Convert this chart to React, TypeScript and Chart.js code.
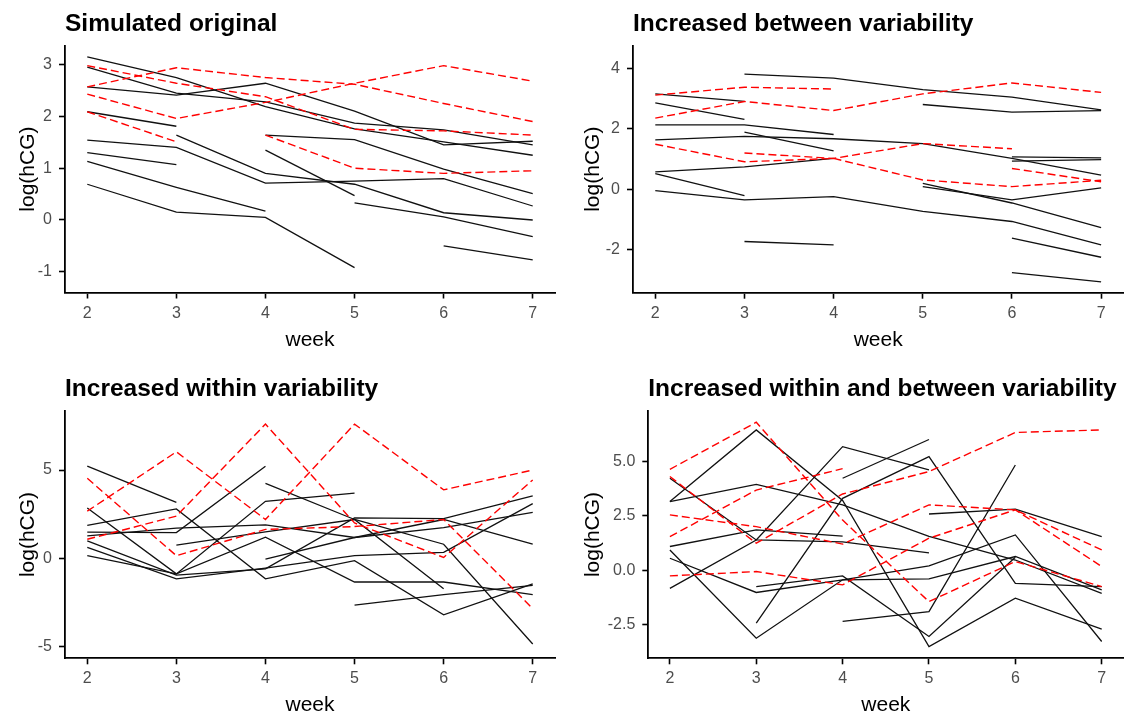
import React, { useEffect, useRef } from "react";
import { Chart, registerables } from "chart.js";

Chart.register(...registerables);

type Series = (number | null)[];

const WEEKS = [2, 3, 4, 5, 6, 7];

// ---------- Panel 1: Simulated original ----------
const P1_TITLE = "Simulated original";
const P1_Y_TICKS = [-1, 0, 1, 2, 3];
const P1_SOLID: Series[] = [
  [3.15, 2.75, 2.19, 1.76, 1.51, 1.25],
  [2.95, 2.45, 2.28, 1.87, 1.74, 1.45],
  [2.57, 2.41, 2.64, 2.1, 1.45, 1.52],
  [2.09, 1.81, null, null, null, null],
  [null, 1.64, 0.9, 0.69, 0.14, 0.0],
  [1.54, 1.4, 0.71, 0.75, 0.8, 0.27],
  [1.3, 1.07, null, null, null, null],
  [1.13, 0.63, 0.17, null, null, null],
  [0.69, 0.15, 0.05, -0.92, null, null],
  [null, null, 1.64, 1.55, 0.98, 0.51],
  [null, null, 1.35, 0.47, null, null],
  [null, null, null, 0.33, 0.06, -0.32],
  [null, null, null, null, -0.5, -0.77],
];
const P1_DASHED: Series[] = [
  [2.98, 2.64, 2.38, 1.75, 1.72, 1.64],
  [2.57, 2.94, 2.75, 2.62, 2.25, 1.9],
  [2.43, 1.96, 2.27, 2.64, 2.98, 2.68],
  [2.09, 1.51, null, null, null, null],
  [null, null, 1.64, 1.0, 0.9, 0.95],
];

// ---------- Panel 2: Increased between variability ----------
const P2_TITLE = "Increased between variability";
const P2_Y_TICKS = [-2, 0, 2, 4];
const P2_SOLID: Series[] = [
  [null, 3.8, 3.67, 3.29, 3.04, 2.62],
  [null, null, null, 2.8, 2.55, 2.6],
  [3.15, 2.9, null, null, null, null],
  [2.85, 2.31, null, null, null, null],
  [2.13, 2.13, 1.81, null, null, null],
  [null, 1.89, 1.27, null, null, null],
  [1.63, 1.75, 1.67, 1.51, 1.02, 0.47],
  [0.58, 0.74, 1.02, null, null, null],
  [0.52, -0.21, null, null, null, null],
  [-0.04, -0.35, -0.24, -0.73, -1.06, -1.83],
  [null, -1.72, -1.83, null, null, null],
  [null, null, null, 0.2, -0.45, -1.26],
  [null, null, null, 0.09, -0.35, 0.05],
  [null, null, null, null, -1.61, -2.24],
  [null, null, null, null, -2.75, -3.05],
  [null, null, null, null, 1.07, 1.04],
  [null, null, null, null, 0.93, 0.98],
];
const P2_DASHED: Series[] = [
  [3.11, 3.37, 3.31, null, null, null],
  [2.35, 2.9, 2.6, 3.15, 3.51, 3.2],
  [1.49, 0.91, 1.02, 0.31, 0.09, 0.3],
  [null, 1.2, 1.02, 1.51, 1.34, null],
  [null, null, null, null, 0.69, 0.25],
];

// ---------- Panel 3: Increased within variability ----------
const P3_TITLE = "Increased within variability";
const P3_Y_TICKS = [-5, 0, 5];
const P3_SOLID: Series[] = [
  [5.22, 3.17, null, null, null, null],
  [2.85, -0.88, 3.23, 3.69, null, null],
  [1.87, 2.8, -1.16, -0.13, -3.2, -1.44],
  [1.49, 1.46, 5.22, null, null, null],
  [1.27, 1.71, 1.9, 1.18, 2.2, 0.8],
  [0.99, -0.95, -0.6, 2.29, 2.25, 3.54],
  [0.62, -1.16, -0.55, 0.15, 0.34, 3.1],
  [0.15, -0.88, 1.2, -1.34, -1.34, -2.05],
  [null, 0.75, 1.5, 2.2, -1.72, null],
  [null, null, 4.25, 2.2, 0.8, -4.85],
  [null, null, -0.04, 1.18, 1.74, 2.6],
  [null, null, null, -2.65, -2.05, -1.53],
];
const P3_DASHED: Series[] = [
  [4.53, 0.15, 1.64, 1.8, 2.2, -2.85],
  [2.67, 6.03, 2.2, 7.6, 3.88, 5.0],
  [1.08, 2.39, 7.6, 2.0, 0.05, 4.44],
];

// ---------- Panel 4: Increased within and between variability ----------
const P4_TITLE = "Increased within and between variability";
const P4_Y_TICKS = [-2.5, 0, 2.5, 5];
const P4_SOLID: Series[] = [
  [4.22, 1.39, 1.3, 0.8, null, null],
  [3.15, 3.94, 3.0, 1.55, 0.47, -1.06],
  [3.15, 6.44, 3.2, -3.5, -1.28, -2.7],
  [1.09, 1.85, 1.57, null, null, null],
  [0.55, -1.02, -0.44, 0.2, 1.62, -3.27],
  [0.93, -3.12, -0.44, -0.4, 0.63, -0.9],
  [-0.83, 1.39, 5.67, 4.6, null, null],
  [null, -2.43, 3.3, 5.21, -0.6, -0.75],
  [null, -0.75, -0.26, -3.04, 0.6, null],
  [null, null, 4.22, 6.0, null, null],
  [null, null, -2.35, -1.9, 4.83, null],
  [null, null, null, 2.58, 2.8, 1.54],
];
const P4_DASHED: Series[] = [
  [4.63, 6.79, 2.3, -1.44, 0.4, -0.75],
  [4.3, 1.24, 3.5, 4.53, 6.32, 6.44],
  [2.54, 2.0, 1.2, 3.0, 2.77, 0.93],
  [1.54, 3.68, 4.66, null, null, null],
  [-0.26, -0.06, -0.67, 1.47, 2.77, 0.17],
];

// ---------- layout (positions / sizes only) ----------
const FONT = '"Liberation Sans", Arial, Helvetica, sans-serif';

type PanelSpec = {
  title: string;
  solid: Series[];
  dashed: Series[];
  yTicks: number[];
  decimals: number;
  yMin: number;
  yMax: number;
  left: number;
  top: number;
  yAxisWidth: number;
  xAxisHeight: number;
  padTop: number;
  padRight: number;
  xTitlePad: number;
};

const PANELS: PanelSpec[] = [
  {
    title: P1_TITLE, solid: P1_SOLID, dashed: P1_DASHED, yTicks: P1_Y_TICKS, decimals: 0,
    yMin: -1.4, yMax: 3.365, left: 0, top: 0, yAxisWidth: 65, xAxisHeight: 65.5,
    padTop: 45.7, padRight: 10, xTitlePad: 7,
  },
  {
    title: P2_TITLE, solid: P2_SOLID, dashed: P2_DASHED, yTicks: P2_Y_TICKS, decimals: 0,
    yMin: -3.41, yMax: 4.74, left: 565, top: 0, yAxisWidth: 68, xAxisHeight: 65.3,
    padTop: 45.7, padRight: 6.6, xTitlePad: 7,
  },
  {
    title: P3_TITLE, solid: P3_SOLID, dashed: P3_DASHED, yTicks: P3_Y_TICKS, decimals: 0,
    yMin: -5.66, yMax: 8.36, left: 0, top: 358, yAxisWidth: 65, xAxisHeight: 57.7,
    padTop: 52.7, padRight: 10, xTitlePad: 0,
  },
  {
    title: P4_TITLE, solid: P4_SOLID, dashed: P4_DASHED, yTicks: P4_Y_TICKS, decimals: 1,
    yMin: -4.04, yMax: 7.32, left: 565, top: 358, yAxisWidth: 83.3, xAxisHeight: 57.7,
    padTop: 52.7, padRight: 6.7, xTitlePad: 0,
  },
];

const PANEL_W = 565;
const PANEL_H = 358;

function toPoints(s: Series) {
  return WEEKS.map((w, i) => ({ x: w, y: s[i] }));
}

function Panel({ spec }: { spec: PanelSpec }) {
  const ref = useRef<HTMLCanvasElement | null>(null);

  useEffect(() => {
    if (!ref.current) return;
    const solidSets = spec.solid.map((s) => ({
      data: toPoints(s),
      borderColor: "#111111",
      borderWidth: 1.3,
      pointRadius: 0,
      fill: false,
      spanGaps: false,
      tension: 0,
    }));
    const dashedSets = spec.dashed.map((s) => ({
      data: toPoints(s),
      borderColor: "#FF0000",
      borderWidth: 1.4,
      borderDash: [8, 4],
      pointRadius: 0,
      fill: false,
      spanGaps: false,
      tension: 0,
    }));

    const titlePlugin = {
      id: "panelTitle",
      afterDraw(chart: any) {
        const { ctx, chartArea } = chart;
        ctx.save();
        ctx.font = `bold 24.5px ${FONT}`;
        ctx.fillStyle = "#000000";
        ctx.textAlign = "left";
        ctx.textBaseline = "alphabetic";
        ctx.fillText(spec.title, chartArea.left, chartArea.top - 15);
        ctx.restore();
      },
    };

    const chart = new Chart(ref.current, {
      type: "line",
      data: { datasets: [...dashedSets, ...solidSets] as any },
      options: {
        animation: false,
        responsive: false,
        maintainAspectRatio: false,
        events: [],
        layout: { padding: { left: 0, top: spec.padTop, right: spec.padRight, bottom: 0 } },
        plugins: {
          legend: { display: false },
          tooltip: { enabled: false },
          title: { display: false },
        },
        scales: {
          x: {
            type: "linear",
            min: 1.75,
            max: 7.25,
            afterBuildTicks: (s: any) => {
              s.ticks = WEEKS.map((v) => ({ value: v }));
            },
            afterFit: (s: any) => {
              s.height = spec.xAxisHeight;
            },
            grid: {
              display: true,
              drawOnChartArea: false,
              drawTicks: true,
              tickLength: 6,
              tickWidth: 1.6,
              tickColor: "#000000",
            },
            border: { display: true, color: "#000000", width: 1.8 },
            ticks: {
              font: { family: FONT, size: 16 },
              color: "#4D4D4D",
              padding: 5,
              maxRotation: 0,
              callback: (v: any) => String(v),
            },
            title: {
              display: true,
              text: "week",
              color: "#000000",
              font: { family: FONT, size: 21, lineHeight: 1 },
              padding: { top: 0, bottom: spec.xTitlePad },
            },
          },
          y: {
            type: "linear",
            min: spec.yMin,
            max: spec.yMax,
            afterBuildTicks: (s: any) => {
              s.ticks = spec.yTicks.map((v) => ({ value: v }));
            },
            afterFit: (s: any) => {
              s.width = spec.yAxisWidth;
            },
            grid: {
              display: true,
              drawOnChartArea: false,
              drawTicks: true,
              tickLength: 6,
              tickWidth: 1.6,
              tickColor: "#000000",
            },
            border: { display: true, color: "#000000", width: 1.8 },
            ticks: {
              font: { family: FONT, size: 16 },
              color: "#4D4D4D",
              padding: 7,
              callback: (v: any) => Number(v).toFixed(spec.decimals),
            },
            title: {
              display: true,
              text: "log(hCG)",
              color: "#000000",
              font: { family: FONT, size: 21, lineHeight: 1 },
              padding: { top: 17.5, bottom: 0 },
            },
          },
        },
      } as any,
      plugins: [titlePlugin],
    });
    return () => chart.destroy();
  }, [spec]);

  return (
    <canvas
      ref={ref}
      width={PANEL_W}
      height={PANEL_H}
      style={{
        position: "absolute",
        left: spec.left,
        top: spec.top,
        width: PANEL_W,
        height: PANEL_H,
      }}
    />
  );
}

export default function App() {
  return (
    <div
      style={{
        position: "absolute",
        left: 0,
        top: 0,
        width: 1130,
        height: 716,
        background: "#ffffff",
        overflow: "hidden",
      }}
    >
      {PANELS.map((p, i) => (
        <Panel key={i} spec={p} />
      ))}
    </div>
  );
}
